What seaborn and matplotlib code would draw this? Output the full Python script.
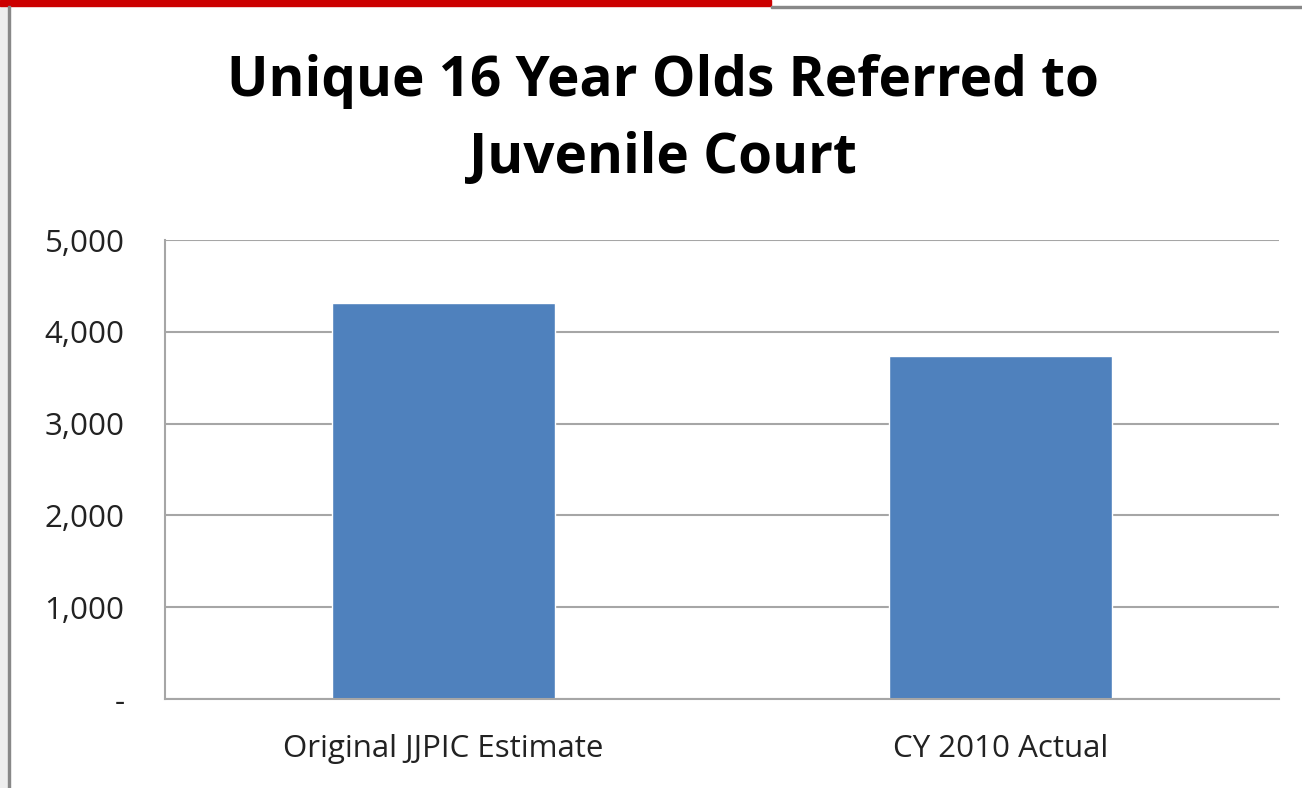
import matplotlib
matplotlib.use("Agg")
import matplotlib.pyplot as plt
import matplotlib.ticker as mticker
import seaborn as sns
import pandas as pd

categories = ["Original JJPIC Estimate", "CY 2010 Actual"]
values = [4310, 3740]
yticks = [0, 1000, 2000, 3000, 4000, 5000]
title = "Unique 16 Year Olds Referred to\nJuvenile Court"

df = pd.DataFrame({"category": categories, "count": values})

sns.set_theme(style="white")
plt.rcParams["font.family"] = ["Open Sans", "DejaVu Sans"]

fig = plt.figure(figsize=(13.02, 7.88), dpi=100)
ax = fig.add_axes([0.1267, 0.1129, 0.8556, 0.5825])

sns.barplot(data=df, x="category", y="count", color="#4f81bd", width=0.4,
            saturation=1, ax=ax)

ax.set_ylim(0, 5000)
ax.set_yticks(yticks)
ax.yaxis.set_major_formatter(mticker.FuncFormatter(
    lambda v, p: "-" if v == 0 else f"{int(v):,}"))
ax.yaxis.grid(True, color="#a6a6a6", linewidth=1.5)
ax.set_axisbelow(True)
ax.set_xlabel("")
ax.set_ylabel("")
for side in ["top", "right"]:
    ax.spines[side].set_visible(False)
for side in ["left", "bottom"]:
    ax.spines[side].set_color("#a6a6a6")
    ax.spines[side].set_linewidth(1.5)
ax.tick_params(axis="y", length=0, pad=29, labelsize=22.5, labelcolor="#222222")
ax.tick_params(axis="x", length=0, pad=25, labelsize=22.5, labelcolor="#222222")

fig.text(0.509, 0.848, title, ha="center", va="center", fontsize=39.5,
         fontweight="bold", color="black", linespacing=1.52)

# screenshot frame
fig.patches.append(plt.Rectangle((0, 0.993), 0.592, 0.007, transform=fig.transFigure,
                                 color="#cc0000", zorder=5))
fig.patches.append(plt.Rectangle((0.592, 0.990), 0.408, 0.003, transform=fig.transFigure,
                                 color="#888888", zorder=5))
fig.patches.append(plt.Rectangle((0.0065, 0), 0.0015, 0.993, transform=fig.transFigure,
                                 color="#888888", zorder=5))
fig.patches.append(plt.Rectangle((0, 0), 0.0065, 0.993, transform=fig.transFigure,
                                 color="#eeeeee", zorder=4))

fig.savefig("out.png", dpi=100)
